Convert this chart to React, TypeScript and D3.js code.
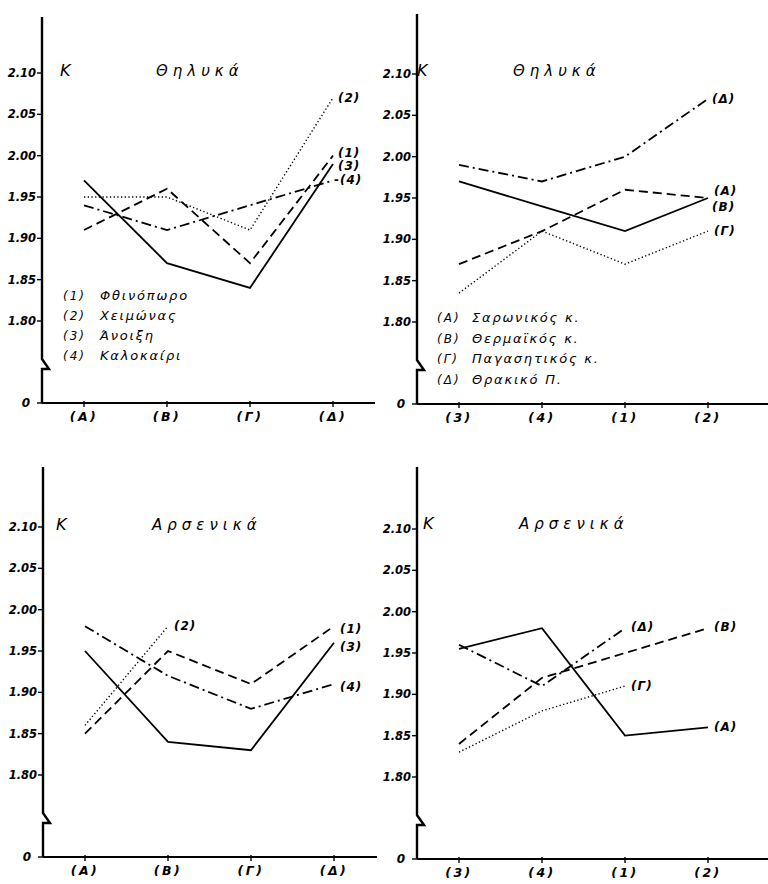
import React from "react";
import * as d3 from "d3";

// x categories
const regionCats = ["(Α)", "(Β)", "(Γ)", "(Δ)"];
const seasonCats = ["(3)", "(4)", "(1)", "(2)"];

// y ticks (the broken axis also shows 0 at the bottom)
const yTicks = [1.8, 1.85, 1.9, 1.95, 2.0, 2.05, 2.1];
const yTickText = ["1.80", "1.85", "1.90", "1.95", "2.00", "2.05", "2.10"];

const seasonLegend = ["Φθινόπωρο", "Χειμώνας", "Άνοιξη", "Καλοκαίρι"];
const seasonKeys = ["(1)", "(2)", "(3)", "(4)"];
const regionLegend = ["Σαρωνικός κ.", "Θερμαϊκός κ.", "Παγασητικός κ.", "Θρακικό Π."];
const regionKeys = ["(Α)", "(Β)", "(Γ)", "(Δ)"];

// females, by region (one line per season)
const femAutumn = [1.91, 1.96, 1.87, 2.0];
const femWinter = [1.95, 1.95, 1.91, 2.07];
const femSpring = [1.97, 1.87, 1.84, 1.99];
const femSummer = [1.94, 1.91, 1.94, 1.97];

// females, by season (one line per region)
const femSaronikos = [1.97, 1.94, 1.91, 1.95];
const femThermaikos = [1.87, 1.91, 1.96, 1.95];
const femPagasitikos = [1.835, 1.91, 1.87, 1.91];
const femThrakiko = [1.99, 1.97, 2.0, 2.07];

// males, by region
const maleAutumn = [1.85, 1.95, 1.91, 1.98];
const maleWinter = [1.86, 1.98];
const maleSpring = [1.95, 1.84, 1.83, 1.96];
const maleSummer = [1.98, 1.92, 1.88, 1.91];

// males, by season
const maleSaronikos = [1.955, 1.98, 1.85, 1.86];
const maleThermaikos = [1.84, 1.92, 1.95, 1.98];
const malePagasitikos = [1.83, 1.88, 1.91];
const maleThrakiko = [1.96, 1.91, 1.98];

const DASH: Record<string, string | undefined> = {
  solid: undefined,
  dashed: "9,5",
  dotted: "1.3,2.4",
  dashdot: "10,4,2,4",
};

const FONT = "'DejaVu Sans', sans-serif";

type Series = { values: number[]; style: string; label: string; ldx: number; ldy: number };

type PanelProps = {
  ox: number;
  oy: number;
  top: number;
  axisEnd: number;
  cats: string[];
  title: string;
  titleX: number;
  titleY: number;
  series: Series[];
  legendKeys: string[];
  legendNames: string[];
  legendX: number;
  legendTextX: number;
  legendY: number;
  legendStep: number;
};

const Panel = (p: PanelProps) => {
  const y = d3.scaleLinear().domain([1.8, 2.1]).range([248, 0]);
  const x = d3.scalePoint().domain(p.cats).range([42, 291]);
  const zeroY = 330;

  const line = (vals: number[]) =>
    d3
      .line<number>()
      .x((_, i) => x(p.cats[i]) as number)
      .y((d) => y(d))(vals) as string;

  return (
    <g transform={`translate(${p.ox},${p.oy})`}>
      {/* y axis with break */}
      <path
        d={`M0,${p.top} V286 L7,296 L0,296 V${zeroY}`}
        fill="none"
        stroke="#000"
        strokeWidth={2.4}
      />
      <line x1={0} x2={p.axisEnd} y1={zeroY} y2={zeroY} stroke="#000" strokeWidth={2.2} />
      {yTicks.map((t, i) => (
        <g key={t}>
          <line x1={-5} x2={0} y1={y(t)} y2={y(t)} stroke="#000" strokeWidth={1.4} />
          <text
            x={-6}
            y={y(t) + 4}
            textAnchor="end"
            fontFamily={FONT}
            fontStyle="italic"
            fontWeight="bold"
            fontSize={11.5}
          >
            {yTickText[i]}
          </text>
        </g>
      ))}
      <line x1={-5} x2={0} y1={zeroY} y2={zeroY} stroke="#000" strokeWidth={1.4} />
      <text x={-12} y={zeroY + 4} textAnchor="end" fontFamily={FONT} fontStyle="italic" fontWeight="bold" fontSize={12}>
        0
      </text>
      {p.cats.map((c) => (
        <g key={c}>
          <line x1={x(c)} x2={x(c)} y1={zeroY - 2} y2={zeroY + 4} stroke="#000" strokeWidth={1.4} />
          <text
            x={x(c)}
            y={zeroY + 18}
            textAnchor="middle"
            fontFamily={FONT}
            fontStyle="italic"
            fontWeight="bold"
            fontSize={12.5}
            letterSpacing={2.5}
          >
            {c}
          </text>
        </g>
      ))}

      <text x={p.titleX - 96} y={p.titleY} fontFamily={FONT} fontStyle="italic" fontSize={16}>
        K
      </text>
      <text x={p.titleX} y={p.titleY} fontFamily={FONT} fontStyle="italic" fontSize={15} letterSpacing={5}>
        {p.title}
      </text>

      {p.series.map((s) => {
        const n = s.values.length - 1;
        return (
          <g key={s.label}>
            <path
              d={line(s.values)}
              fill="none"
              stroke="#000"
              strokeWidth={s.style === "dotted" ? 1.4 : 1.8}
              strokeDasharray={DASH[s.style]}
            />
            <text
              x={(x(p.cats[n]) as number) + s.ldx}
              y={y(s.values[n]) + s.ldy + 4}
              fontFamily={FONT}
              fontStyle="italic"
              fontWeight="bold"
              fontSize={12}
              letterSpacing={1}
            >
              {s.label}
            </text>
          </g>
        );
      })}

      {p.legendKeys.map((k, i) => (
        <g key={k}>
          <text
            x={p.legendX}
            y={p.legendY + i * p.legendStep}
            fontFamily={FONT}
            fontStyle="italic"
            fontSize={12}
            letterSpacing={2}
          >
            {k}
          </text>
          <text
            x={p.legendTextX}
            y={p.legendY + i * p.legendStep}
            fontFamily={FONT}
            fontStyle="italic"
            fontSize={13}
            letterSpacing={1.8}
          >
            {p.legendNames[i]}
          </text>
        </g>
      ))}
    </g>
  );
};

export default function App() {
  return (
    <svg
      width={768}
      height={884}
      style={{ position: "absolute", left: 0, top: 0, background: "#fff" }}
    >
      <rect width={768} height={884} fill="#fff" />
      <Panel
        ox={42}
        oy={73}
        top={-56}
        axisEnd={333}
        cats={regionCats}
        title="Θηλυκά"
        titleX={114}
        titleY={3}
        series={[
          { values: femAutumn, style: "dashed", label: "(1)", ldx: 5, ldy: -3 },
          { values: femWinter, style: "dotted", label: "(2)", ldx: 5, ldy: 0 },
          { values: femSpring, style: "solid", label: "(3)", ldx: 5, ldy: 2 },
          { values: femSummer, style: "dashdot", label: "-(4)", ldx: 1, ldy: 0 },
        ]}
        legendKeys={seasonKeys}
        legendNames={seasonLegend}
        legendX={21}
        legendTextX={58}
        legendY={227}
        legendStep={20}
      />
      <Panel
        ox={417}
        oy={74}
        top={-60}
        axisEnd={360}
        cats={seasonCats}
        title="Θηλυκά"
        titleX={96}
        titleY={2}
        series={[
          { values: femThermaikos, style: "dashed", label: "(Α)", ldx: 6, ldy: -7 },
          { values: femSaronikos, style: "solid", label: "(Β)", ldx: 4, ldy: 9 },
          { values: femPagasitikos, style: "dotted", label: "(Γ)", ldx: 6, ldy: 0 },
          { values: femThrakiko, style: "dashdot", label: "(Δ)", ldx: 4, ldy: 0 },
        ]}
        legendKeys={regionKeys}
        legendNames={regionLegend}
        legendX={20}
        legendTextX={55}
        legendY={248}
        legendStep={20.5}
      />
      <Panel
        ox={43}
        oy={527}
        top={-60}
        axisEnd={334}
        cats={regionCats}
        title="Αρσενικά"
        titleX={109}
        titleY={3}
        series={[
          { values: maleAutumn, style: "dashed", label: "(1)", ldx: 6, ldy: 3 },
          { values: maleWinter, style: "dotted", label: "(2)", ldx: 6, ldy: 0 },
          { values: maleSpring, style: "solid", label: "(3)", ldx: 6, ldy: 4 },
          { values: maleSummer, style: "dashdot", label: "(4)", ldx: 6, ldy: 3 },
        ]}
        legendKeys={[]}
        legendNames={[]}
        legendX={0}
        legendTextX={0}
        legendY={0}
        legendStep={20}
      />
      <Panel
        ox={417}
        oy={529}
        top={-62}
        axisEnd={360}
        cats={seasonCats}
        title="Αρσενικά"
        titleX={102}
        titleY={0}
        series={[
          { values: maleSaronikos, style: "solid", label: "(Α)", ldx: 6, ldy: 0 },
          { values: maleThermaikos, style: "dashed", label: "(Β)", ldx: 6, ldy: -1 },
          { values: malePagasitikos, style: "dotted", label: "(Γ)", ldx: 6, ldy: 0 },
          { values: maleThrakiko, style: "dashdot", label: "(Δ)", ldx: 6, ldy: -1 },
        ]}
        legendKeys={[]}
        legendNames={[]}
        legendX={0}
        legendTextX={0}
        legendY={0}
        legendStep={20}
      />
    </svg>
  );
}
